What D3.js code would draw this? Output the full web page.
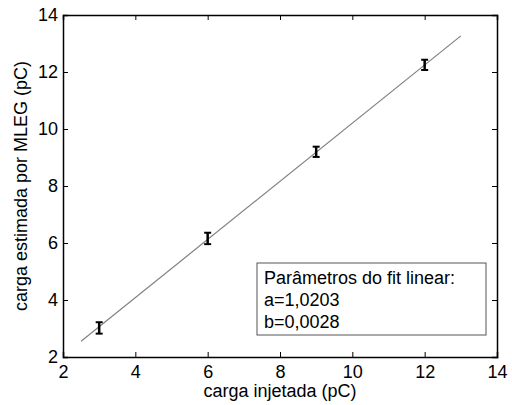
<!DOCTYPE html>
<html>
<head>
<meta charset="utf-8">
<script src="https://cdn.jsdelivr.net/npm/d3@7"></script>
<style>
body { margin: 0; background: #fff; }
text { font-family: "Liberation Sans", Arial, sans-serif; }
</style>
</head>
<body>
<script>
var xVals = [3, 6, 9, 12];
var yVals = [3.02, 6.16, 9.2, 12.25];
var yErr = [0.2, 0.2, 0.18, 0.18];
var ticks = [2, 4, 6, 8, 10, 12, 14];
var fitA = 1.0203, fitB = 0.0028;
var fitRange = [2.5, 13];
var legendLines = ["Parâmetros do fit linear:", "a=1,0203", "b=0,0028"];

var width = 512, height = 405;
var margin = {left: 63, right: 15, top: 15, bottom: 48};

var svg = d3.select("body").append("svg")
    .attr("width", width)
    .attr("height", height);

var x = d3.scaleLinear().domain([2, 14]).range([margin.left, width - margin.right]);
var y = d3.scaleLinear().domain([2, 14]).range([height - margin.bottom, margin.top]);

// ticks inside, matlab style, on all four sides
var axB = svg.append("g").attr("transform", "translate(0," + y(2) + ")")
    .call(d3.axisBottom(x).tickValues(ticks).tickSize(-5).tickPadding(8));
var axL = svg.append("g").attr("transform", "translate(" + x(2) + ",0)")
    .call(d3.axisLeft(y).tickValues(ticks).tickSize(-5).tickPadding(5));
var axT = svg.append("g").attr("transform", "translate(0," + y(14) + ")")
    .call(d3.axisTop(x).tickValues(ticks).tickSize(-5).tickFormat(""));
var axR = svg.append("g").attr("transform", "translate(" + x(14) + ",0)")
    .call(d3.axisRight(y).tickValues(ticks).tickSize(-5).tickFormat(""));

[axB, axL, axT, axR].forEach(function (g) {
    g.select(".domain").attr("stroke", "#000").attr("stroke-width", 1.5);
    g.selectAll(".tick line").attr("stroke", "#000");
    g.selectAll("text").style("font-size", "18px").attr("fill", "#000");
});

// fit line
svg.append("line")
    .attr("x1", x(fitRange[0])).attr("y1", y(fitA * fitRange[0] + fitB))
    .attr("x2", x(fitRange[1])).attr("y2", y(fitA * fitRange[1] + fitB))
    .attr("stroke", "#808080")
    .attr("stroke-width", 1.2);

// error bars
var pts = xVals.map(function (d, i) { return {x: d, y: yVals[i], e: yErr[i]}; });
var eb = svg.selectAll(".eb").data(pts).enter().append("g").attr("class", "eb");
eb.append("line")
    .attr("x1", function (d) { return x(d.x); })
    .attr("x2", function (d) { return x(d.x); })
    .attr("y1", function (d) { return y(d.y - d.e); })
    .attr("y2", function (d) { return y(d.y + d.e); })
    .attr("stroke", "#000").attr("stroke-width", 2.5);
[-1, 1].forEach(function (s) {
    eb.append("line")
        .attr("x1", function (d) { return x(d.x) - 3.5; })
        .attr("x2", function (d) { return x(d.x) + 3.5; })
        .attr("y1", function (d) { return y(d.y + s * d.e); })
        .attr("y2", function (d) { return y(d.y + s * d.e); })
        .attr("stroke", "#000").attr("stroke-width", 2);
});

// legend box
svg.append("rect")
    .attr("x", 257).attr("y", 263)
    .attr("width", 229).attr("height", 72)
    .attr("fill", "#fff")
    .attr("stroke", "#555")
    .attr("stroke-width", 1);
svg.selectAll(".leg").data(legendLines).enter().append("text")
    .attr("class", "leg")
    .attr("x", 264)
    .attr("y", function (d, i) { return 284 + i * 22; })
    .style("font-size", "18px")
    .text(function (d) { return d; });

// axis labels
svg.append("text")
    .attr("x", x(8)).attr("y", 397)
    .attr("text-anchor", "middle")
    .style("font-size", "18px")
    .text("carga injetada (pC)");
svg.append("text")
    .attr("transform", "translate(27," + y(8) + ") rotate(-90)")
    .attr("text-anchor", "middle")
    .style("font-size", "18px")
    .text("carga estimada por MLEG (pC)");
</script>
</body>
</html>
